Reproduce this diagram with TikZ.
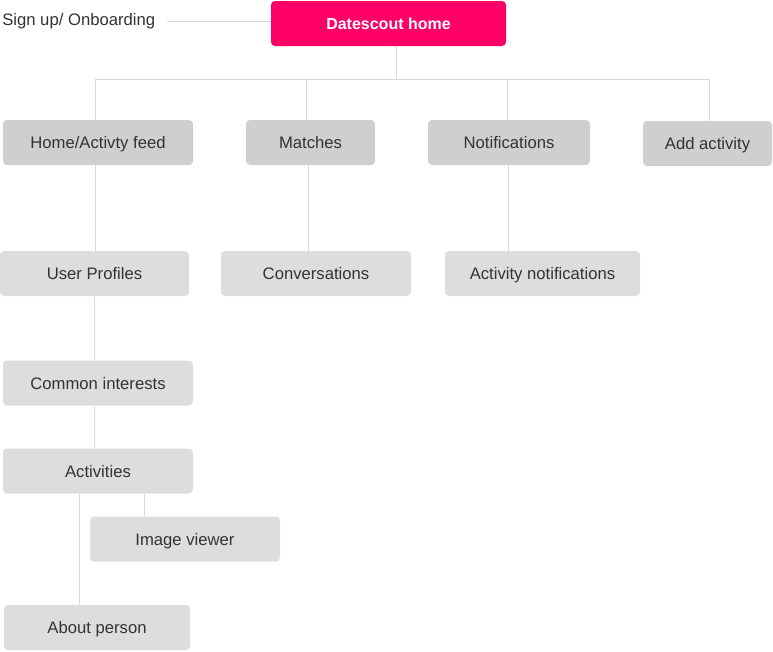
\documentclass[tikz,border=0pt]{standalone}
\usepackage{fontspec}
\setmainfont{Liberation Sans}
\definecolor{pinkhome}{HTML}{FF0066}
\definecolor{boxdark}{HTML}{CFCFCF}
\definecolor{boxlight}{HTML}{DDDDDD}
\definecolor{linkgray}{HTML}{D9D9D9}
\definecolor{textgray}{HTML}{333333}
\begin{document}
\begin{tikzpicture}[x=0.75pt,y=-0.75pt,
	box/.style={rounded corners=3pt, minimum height=33.75pt, minimum width=#1, inner sep=0pt, text height=9.6pt, text depth=0.4pt, text=textgray, font=\fontsize{12.5}{14}\selectfont},
	topbox/.style={box=#1, fill=boxdark},
	subbox/.style={box=#1, fill=boxlight},
	link/.style={draw=linkgray, line width=0.75pt}]
	\useasboundingbox (0,0) rectangle (773,651);
	% root
	\node[box=176.25pt, fill=pinkhome, text=white, font=\bfseries\fontsize{12}{14}\selectfont] (home) at (388.5,23.5) {Datescout home};
	\node[anchor=west, inner sep=0pt, text=textgray, font=\fontsize{12.5}{14}\selectfont] (signup) at (2,21) {Sign up/ Onboarding};
	% first level
	\node[topbox=142.5pt] (feed) at (98,142.5) {Home/Activty feed};
	\node[topbox=96.75pt] (matches) at (310.5,142.5) {Matches};
	\node[topbox=121.5pt] (notif) at (509,142.5) {Notifications};
	\node[topbox=96.75pt] (addact) at (707.5,143.5) {Add activity};
	% second level
	\node[subbox=141.75pt] (profiles) at (94.5,273.5) {User Profiles};
	\node[subbox=142.5pt] (convs) at (316,273.5) {Conversations};
	\node[subbox=146.25pt] (actnotif) at (542.5,273.5) {Activity notifications};
	\node[subbox=142.5pt] (common) at (98,383) {Common interests};
	\node[subbox=142.5pt] (acts) at (98,471) {Activities};
	\node[subbox=142.5pt] (viewer) at (185,539) {Image viewer};
	\node[subbox=139.5pt] (about) at (97,627.5) {About person};
	% links
	\coordinate (bus) at (396,79);
	\draw[link] (signup.east) ++(9pt,0) -- (home.west |- signup.east);
	\draw[link] (bus |- home.south) -- (bus);
	\draw[link] ([xshift=-2.25pt]bus -| feed) -- ([xshift=1.125pt]bus -| addact);
	\draw[link] ([xshift=-2.25pt]bus -| feed) -- ([xshift=-2.25pt]feed.north);
	\draw[link] ([xshift=-3.375pt]bus -| matches) -- ([xshift=-3.375pt]matches.north);
	\draw[link] ([xshift=-1.5pt]bus -| notif) -- ([xshift=-1.5pt]notif.north);
	\draw[link] ([xshift=1.125pt]bus -| addact) -- ([xshift=1.125pt]addact.north);
	\draw[link] ([xshift=-2.25pt]feed.south) -- ([xshift=-2.25pt]feed.south |- profiles.north);
	\draw[link] ([xshift=-1.875pt]matches.south) -- ([xshift=-1.875pt]matches.south |- convs.north);
	\draw[link] ([xshift=-0.75pt]notif.south) -- ([xshift=-0.75pt]notif.south |- actnotif.north);
	\draw[link] (profiles.south) -- (profiles.south |- common.north);
	\draw[link] ([xshift=-3pt]common.south) -- ([xshift=-3pt]common.south |- acts.north);
	\draw[link] ([xshift=34.5pt]acts.south) -- ([xshift=34.5pt]acts.south |- viewer.north);
	\draw[link] ([xshift=-14.25pt]acts.south) -- ([xshift=-14.25pt]acts.south |- about.north);
\end{tikzpicture}
\end{document}
